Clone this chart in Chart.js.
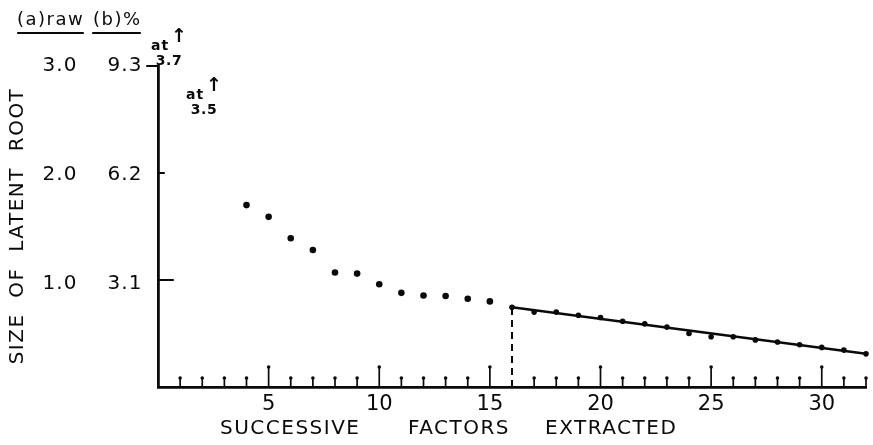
<!DOCTYPE html>
<html>
<head>
<meta charset="utf-8">
<script src="https://cdn.jsdelivr.net/npm/chart.js@4.4.1/dist/chart.umd.min.js"></script>
<style>
  html, body { margin: 0; padding: 0; background: #fff; }
  #wrap { width: 873px; height: 445px; }
</style>
</head>
<body>
<div id="wrap"><canvas id="scree" width="873" height="445"></canvas></div>
<script>
// scree plot, raw latent roots (1.0 raw = 3.1 %)

// factors 4-15: loose dots
const earlyFactors = [4, 5, 6, 7, 8, 9, 10, 11, 12, 13, 14, 15];
const earlyRoots = [1.70, 1.59, 1.39, 1.28, 1.07, 1.06, 0.96, 0.88, 0.855, 0.85, 0.825, 0.80];

// factors 16-32: the scree tail
const tailFactors = [16, 17, 18, 19, 20, 21, 22, 23, 24, 25, 26, 27, 28, 29, 30, 31, 32];
const tailRoots = [0.745, 0.70, 0.70, 0.67, 0.65, 0.615, 0.59, 0.56, 0.50, 0.47, 0.47, 0.44, 0.42, 0.395, 0.37, 0.345, 0.31];

// straight line fitted through the tail
const fitFactors = [16, 32];
const fitRoots = [0.745, 0.31];

// roots above the top of the scale, written in as notes
const offScaleFactors = [1, 2];
const offScaleLabels = ["3.7", "3.5"];

// axis labels
const xLabelFactors = [5, 10, 15, 20, 25, 30];
const yTickValues = [1, 2, 3];
const yRawLabels = ["1.0", "2.0", "3.0"];
const yPctLabels = ["3.1", "6.2", "9.3"];

const FONT = '"DejaVu Sans", sans-serif';
const INK = "#0a0a0a";

// where the hand-written notes sit (style only)
const NOTE_POS = [{ x: 169, y: 61 }, { x: 204, y: 110 }];
const TITLE_WORDS = [["SUCCESSIVE", 220], ["FACTORS", 408], ["EXTRACTED", 545]];

function put(ctx, str, cx, cy, font, spacing, align) {
  ctx.font = font + " " + FONT;
  ctx.letterSpacing = spacing + "px";
  ctx.textAlign = align || "center";
  ctx.textBaseline = "middle";
  ctx.fillText(str, cx, cy);
}

function pts(xs, ys) {
  return xs.map((v, i) => ({ x: v, y: ys[i] }));
}

const inkPlugin = {
  id: "ink",
  afterDraw(chart) {
    const { ctx, chartArea: a, scales } = chart;
    const x = scales.x, y = scales.y;
    ctx.save();
    ctx.fillStyle = INK;
    ctx.strokeStyle = INK;
    ctx.lineCap = "round";

    // x ticks point up into the plot, each with a small blob on top
    ctx.lineWidth = 1.7;
    for (let f = 1; f <= 32; f++) {
      if (f === 16) continue; // the dashed drop line marks this one
      const px = x.getPixelForValue(f);
      const len = f % 5 === 0 ? 20 : 9;
      ctx.beginPath();
      ctx.moveTo(px, a.bottom);
      ctx.lineTo(px, a.bottom - len);
      ctx.stroke();
      ctx.beginPath();
      ctx.arc(px, a.bottom - len, 1.8, 0, Math.PI * 2);
      ctx.fill();
    }

    // y ticks: top one sticks out left, the others right
    ctx.lineWidth = 2.2;
    const tickLen = [15, 6, -11];
    yTickValues.forEach((v, i) => {
      const py = y.getPixelForValue(v);
      ctx.beginPath();
      ctx.moveTo(a.left, py);
      ctx.lineTo(a.left + tickLen[i], py);
      ctx.stroke();
    });

    // two columns of y labels
    yTickValues.forEach((v, i) => {
      const py = y.getPixelForValue(v) + 4 - i * 2;
      put(ctx, yRawLabels[i], 60, py, "20px", 1);
      put(ctx, yPctLabels[i], 125, py, "20px", 1);
    });

    // column heads, underlined
    put(ctx, "(a)raw", 17, 20, "18px", 1.5, "left");
    put(ctx, "(b)%", 93, 20, "18px", 1.5, "left");
    ctx.lineWidth = 2.2;
    ctx.beginPath();
    ctx.moveTo(18, 33); ctx.lineTo(83, 33);
    ctx.moveTo(93, 33); ctx.lineTo(140, 33);
    ctx.stroke();

    // notes for the roots that run off the top
    offScaleFactors.forEach((f, i) => {
      const p = NOTE_POS[i];
      put(ctx, "at", p.x - 9, p.y - 15, "bold 14px", 1);
      put(ctx, "\u2191", p.x + 10, p.y - 24, "bold 19px", 0);
      put(ctx, offScaleLabels[i], p.x, p.y, "bold 14px", 0.5);
    });

    // axis titles
    TITLE_WORDS.forEach(([w, left]) => put(ctx, w, left, 429, "20px", 1.5, "left"));
    ctx.save();
    ctx.translate(18, 226);
    ctx.rotate(-Math.PI / 2);
    put(ctx, "SIZE  OF  LATENT  ROOT", 0, 0, "20px", 1.5);
    ctx.restore();

    ctx.restore();
  },
};

Chart.defaults.font.family = FONT;
Chart.defaults.color = INK;

new Chart(document.getElementById("scree"), {
  type: "scatter",
  data: {
    datasets: [
      {
        label: "factors 4-15",
        data: pts(earlyFactors, earlyRoots),
        pointRadius: 3.3,
        pointBackgroundColor: INK,
        pointBorderWidth: 0,
        clip: false,
      },
      {
        label: "tail",
        data: pts(tailFactors, tailRoots),
        pointRadius: 2.8,
        pointBackgroundColor: INK,
        pointBorderWidth: 0,
        clip: false,
      },
      {
        label: "fit",
        data: pts(fitFactors, fitRoots),
        showLine: true,
        borderColor: INK,
        borderWidth: 2.6,
        pointRadius: 0,
        clip: false,
      },
      {
        label: "drop",
        data: pts([fitFactors[0], fitFactors[0]], [0, fitRoots[0]]),
        showLine: true,
        borderColor: INK,
        borderWidth: 2,
        borderDash: [7, 5],
        pointRadius: 0,
        clip: false,
      },
    ],
  },
  plugins: [inkPlugin],
  options: {
    responsive: false,
    animation: false,
    devicePixelRatio: 1,
    layout: { padding: { top: 66, right: 7, left: 0, bottom: 0 } },
    plugins: { legend: { display: false }, tooltip: { enabled: false } },
    scales: {
      x: {
        type: "linear",
        min: 0,
        max: 32,
        grid: { display: false, drawTicks: false },
        border: { display: true, color: INK, width: 2.8 },
        ticks: {
          stepSize: 5,
          includeBounds: false,
          autoSkip: false,
          maxRotation: 0,
          padding: 5,
          color: INK,
          font: { size: 21 },
          callback: (v) => (xLabelFactors.includes(v) ? String(v) : ""),
        },
        afterFit: (s) => { s.height = 58; },
      },
      y: {
        type: "linear",
        min: 0,
        max: 3,
        grid: { display: false, drawTicks: false },
        border: { display: true, color: INK, width: 2.8 },
        ticks: { display: false },
        afterFit: (s) => { s.width = 158; },
      },
    },
  },
});
</script>
</body>
</html>
